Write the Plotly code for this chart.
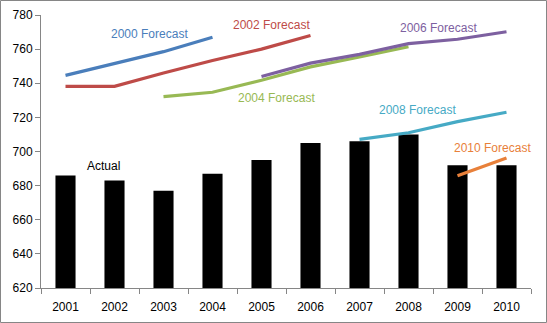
import plotly.graph_objects as go

years = [2001, 2002, 2003, 2004, 2005, 2006, 2007, 2008, 2009, 2010]
actual = [686, 683, 677, 687, 695, 705, 706, 710, 692, 692]

fc2000_x = [2001, 2002, 2003, 2004]
fc2000_y = [744.6, 751.7, 758.5, 767]
fc2002_x = [2001, 2002, 2003, 2004, 2005, 2006]
fc2002_y = [738.2, 738.2, 746, 753.3, 760, 768]
fc2004_x = [2003, 2004, 2005, 2006, 2007, 2008]
fc2004_y = [732.2, 734.7, 741.8, 749.6, 755.4, 761.4]
fc2006_x = [2005, 2006, 2007, 2008, 2009, 2010]
fc2006_y = [744, 751.8, 756.9, 763.2, 765.8, 770.2]
fc2008_x = [2007, 2008, 2009, 2010]
fc2008_y = [707.1, 711, 717.5, 723]
fc2010_x = [2009, 2010]
fc2010_y = [685.8, 696.2]

forecasts = [
    ("2000 Forecast", fc2000_x, fc2000_y, "#4A7EBB", 2002.72, 768.9),
    ("2002 Forecast", fc2002_x, fc2002_y, "#BE4B48", 2005.21, 774.2),
    ("2004 Forecast", fc2004_x, fc2004_y, "#98B954", 2005.30, 731.3),
    ("2006 Forecast", fc2006_x, fc2006_y, "#7D60A0", 2008.62, 772.4),
    ("2008 Forecast", fc2008_x, fc2008_y, "#46AAC5", 2008.19, 724.3),
    ("2010 Forecast", fc2010_x, fc2010_y, "#E8803A", 2009.72, 702.0),
]

FONT = "Liberation Sans"

fig = go.Figure()
fig.add_trace(go.Bar(x=years, y=actual, marker=dict(color="black", line=dict(width=0)),
                     width=0.41, name="Actual"))

annotations = [dict(x=2001.77, y=691.5, xref="x", yref="y", text="Actual", showarrow=False,
                    font=dict(family=FONT, size=12, color="black"))]

for name, xs, ys, color, lx, ly in forecasts:
    fig.add_trace(go.Scatter(x=xs, y=ys, mode="lines", name=name,
                             line=dict(color=color, width=3.2)))
    annotations.append(dict(x=lx, y=ly, xref="x", yref="y", text=name, showarrow=False,
                            font=dict(family=FONT, size=12, color=color)))

fig.update_layout(
    width=547, height=323,
    margin=dict(l=41, r=16, t=15, b=35),
    paper_bgcolor="white", plot_bgcolor="white",
    showlegend=False,
    font=dict(family=FONT, size=12, color="black"),
    annotations=annotations,
    xaxis=dict(
        range=[2000.5, 2010.5], tickvals=years, ticktext=[str(y) for y in years],
        ticks="", showgrid=False, zeroline=False, automargin=False,
        showline=True, linecolor="#868686", linewidth=1,
        ticklabelstandoff=8,
        minor=dict(tick0=2000.5, dtick=1, ticks="outside", ticklen=5,
                   tickcolor="#868686", showgrid=False),
        tickfont=dict(family=FONT, size=12, color="black"),
    ),
    yaxis=dict(
        range=[620, 780], dtick=20, tick0=620, automargin=False,
        ticks="outside", ticklen=5, tickcolor="#868686",
        showgrid=False, zeroline=False,
        showline=True, linecolor="#868686", linewidth=1,
        tickfont=dict(family=FONT, size=12, color="black"),
    ),
    shapes=[dict(type="rect", xref="paper", yref="paper",
                 x0=(0.5 - 41) / 490, x1=(546.5 - 41) / 490,
                 y0=(288 - 322.5) / 273, y1=(288 - 0.5) / 273,
                 line=dict(color="#868686", width=1), layer="below")],
)

fig.write_html("out.html")
